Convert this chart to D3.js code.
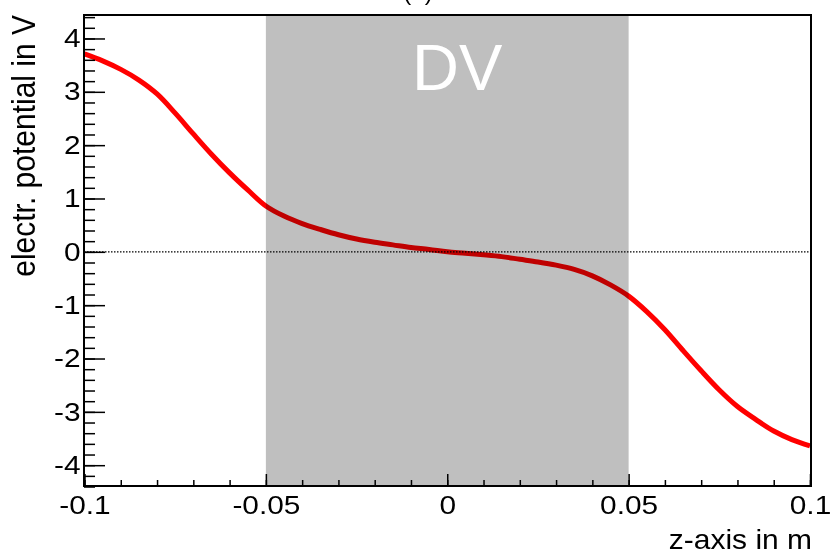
<!DOCTYPE html>
<html lang="en">
	<head>
		<meta charset="utf-8">
		<title>electr. potential along z</title>
		<script type="text/javascript" src="https://d3js.org/d3.v7.min.js"></script>
		<style type="text/css">
			body { margin: 0; background: #fff; }
			svg { display: block; font-family: "Liberation Sans", Arial, sans-serif; }
		</style>
	</head>
	<body>
		<script type="text/javascript">

			//Width and height
			var w = 832;
			var h = 554;

			// data
			var zValues = [-0.100, -0.095, -0.090, -0.085, -0.080, -0.075, -0.070, -0.065, -0.060, -0.055,
			               -0.050, -0.045, -0.040, -0.035, -0.030, -0.025, -0.020, -0.015, -0.010, -0.005,
			                0.000,  0.005,  0.010,  0.015,  0.020,  0.025,  0.030,  0.035,  0.040,  0.045,
			                0.050,  0.055,  0.060,  0.065,  0.070,  0.075,  0.080,  0.085,  0.090,  0.095, 0.100];
			var potential = [3.71, 3.58, 3.42, 3.22, 2.96, 2.60, 2.21, 1.83, 1.48, 1.16,
			                 0.86, 0.67, 0.53, 0.42, 0.32, 0.24, 0.18, 0.13, 0.08, 0.045,
			                 0.00, -0.025, -0.055, -0.09, -0.14, -0.19, -0.25, -0.33, -0.45, -0.62,
			                 -0.83, -1.12, -1.46, -1.85, -2.23, -2.59, -2.90, -3.14, -3.36, -3.52, -3.64];

			// shaded drift volume region
			var bandRange = [-0.05, 0.05];
			var bandLabel = "DV";

			// tick labels
			var xTicks = [-0.1, -0.05, 0, 0.05, 0.1];
			var xTickLabels = ["-0.1", "-0.05", "0", "0.05", "0.1"];
			var yTicks = [-4, -3, -2, -1, 0, 1, 2, 3, 4];
			var yTickLabels = ["-4", "-3", "-2", "-1", "0", "1", "2", "3", "4"];
			var xTitle = "z-axis in m";
			var yTitle = "electr. potential in V";

			var data = zValues.map(function(z, i) { return { z: z, v: potential[i] }; });

			// frame edges
			var fLeft = 84, fRight = 811, fTop = 15, fBottom = 486;

			var x = d3.scaleLinear().domain([-0.1, 0.1]).range([84.5, 810]);
			var y = d3.scaleLinear().domain([-4.39, 4.44]).range([fBottom, fTop]);

			//Create SVG element
			var svg = d3.select("body")
						.append("svg")
						.attr("width", w)
						.attr("height", h);

			// title, mostly outside the picture
			svg.append("text")
			   .attr("x", 418)
			   .attr("y", 0)
			   .attr("text-anchor", "middle")
			   .style("font-size", "24px")
			   .text("(a)");

			// the curve
			var line = d3.line()
						 .x(function(d) { return x(d.z); })
						 .y(function(d) { return y(d.v); })
						 .curve(d3.curveCatmullRom);

			svg.append("path")
			   .datum(data)
			   .attr("d", line)
			   .attr("fill", "none")
			   .attr("stroke", "#ff0000")
			   .attr("stroke-width", 5)
			   .attr("stroke-linejoin", "round");

			// grey band drawn over the curve (multiply darkens the red)
			svg.append("rect")
			   .attr("x", x(bandRange[0]))
			   .attr("y", fTop)
			   .attr("width", x(bandRange[1]) - x(bandRange[0]))
			   .attr("height", fBottom - fTop)
			   .attr("fill", "#bfbfbf")
			   .style("mix-blend-mode", "multiply");

			// zero line
			svg.append("line")
			   .attr("x1", fLeft)
			   .attr("x2", fRight)
			   .attr("y1", y(0))
			   .attr("y2", y(0))
			   .attr("stroke", "#000")
			   .attr("stroke-width", 1.2)
			   .attr("stroke-dasharray", "1.5,1.5");

			svg.append("text")
			   .attr("x", x(0) + 10)
			   .attr("y", 90)
			   .attr("text-anchor", "middle")
			   .attr("fill", "#fff")
			   .style("font-size", "65px")
			   .text(bandLabel);

			// axes, ticks pointing inward
			var yMinor = d3.range(-44, 45, 2).map(function(d) { return d / 10; });
			var xMinor = d3.range(-10, 11, 1).map(function(d) { return d / 100; });

			svg.append("g")
			   .attr("transform", "translate(" + fLeft + ",0)")
			   .call(d3.axisLeft(y).tickValues(yMinor).tickSize(-11).tickSizeOuter(0).tickFormat(""))
			   .call(function(g) { g.select(".domain").remove(); });

			svg.append("g")
			   .attr("transform", "translate(0," + fBottom + ")")
			   .call(d3.axisBottom(x).tickValues(xMinor).tickSize(-6).tickSizeOuter(0).tickFormat(""))
			   .call(function(g) { g.select(".domain").remove(); });

			var yAxis = svg.append("g")
			   .attr("transform", "translate(" + fLeft + ",0)")
			   .call(d3.axisLeft(y).tickValues(yTicks).tickSize(-21).tickSizeOuter(0).tickPadding(3)
					 .tickFormat(function(d, i) { return yTickLabels[i]; }));

			var xAxis = svg.append("g")
			   .attr("transform", "translate(0," + fBottom + ")")
			   .call(d3.axisBottom(x).tickValues(xTicks).tickSize(-12).tickSizeOuter(0).tickPadding(10)
					 .tickFormat(function(d, i) { return xTickLabels[i]; }));

			[yAxis, xAxis].forEach(function(g) {
				g.select(".domain").remove();
				g.selectAll("text")
				 .attr("fill", "#000")
				 .style("font-size", "25.5px")
				 .style("font-family", "'Liberation Sans', Arial, sans-serif")
				 .attr("transform", "scale(1.17,1)");
			});
			svg.selectAll(".tick line").attr("stroke", "#000").attr("stroke-width", 1.5);

			// frame
			svg.append("rect")
			   .attr("x", fLeft)
			   .attr("y", fTop)
			   .attr("width", fRight - fLeft)
			   .attr("height", fBottom - fTop)
			   .attr("fill", "none")
			   .attr("stroke", "#000")
			   .attr("stroke-width", 2);

			// axis titles
			svg.append("text")
			   .attr("transform", "translate(812,549) scale(1.11,1)")
			   .attr("text-anchor", "end")
			   .style("font-size", "27px")
			   .text(xTitle);

			svg.append("text")
			   .attr("transform", "translate(35,15) scale(1.08,1) rotate(-90)")
			   .attr("text-anchor", "end")
			   .style("font-size", "30px")
			   .text(yTitle);

		</script>
	</body>
</html>
